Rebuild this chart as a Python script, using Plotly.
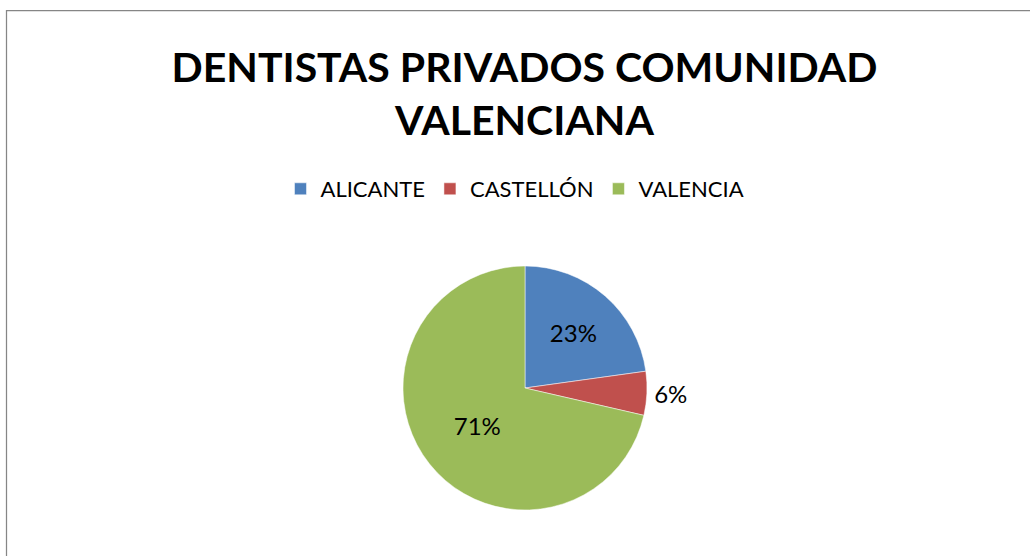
import plotly.graph_objects as go

categories = ["ALICANTE", "CASTELLÓN", "VALENCIA"]
values = [22.8, 5.8, 71.4]
colors = ["#4F81BD", "#C0504D", "#9BBB59"]
title_text = "DENTISTAS PRIVADOS COMUNIDAD<br>VALENCIANA"

W, H = 1030, 556
cx, cy, r = 525, 388, 122

fig = go.Figure(go.Pie(
    labels=categories,
    values=values,
    sort=False,
    direction="clockwise",
    rotation=0,
    marker=dict(colors=colors, line=dict(color="white", width=0.5)),
    texttemplate="%{percent:.0%}",
    textposition=["inside", "outside", "inside"],
    insidetextorientation="horizontal",
    textfont=dict(family="Lato", size=24, color="black"),
    domain=dict(x=[(cx - r) / W, (cx + r) / W], y=[1 - (cy + r) / H, 1 - (cy - r) / H]),
    showlegend=True,
    hoverinfo="label+percent",
))

fig.update_layout(
    width=W, height=H,
    margin=dict(l=0, r=0, t=0, b=0),
    paper_bgcolor="white",
    plot_bgcolor="white",
    title=dict(
        text=title_text,
        x=524.5 / W, xanchor="center",
        y=1 - 82 / H, yanchor="top",
        font=dict(family="Lato", size=41, color="black", weight="bold"),
    ),
    legend=dict(
        orientation="h",
        x=0.5, xanchor="center",
        y=1 - 168 / H, yanchor="top",
        font=dict(family="Lato", size=22, color="black"),
        itemclick=False,
    ),
    shapes=[dict(
        type="rect", xref="paper", yref="paper",
        x0=6.5 / W, x1=1.05, y0=-0.05, y1=1 - 10.5 / H,
        line=dict(color="#868686", width=1.25),
        fillcolor="rgba(0,0,0,0)",
    )],
)

fig.write_html(
    "out.html",
    config={"displayModeBar": False},
    post_script="document.body.style.margin='0';document.body.style.overflow='hidden';",
)
